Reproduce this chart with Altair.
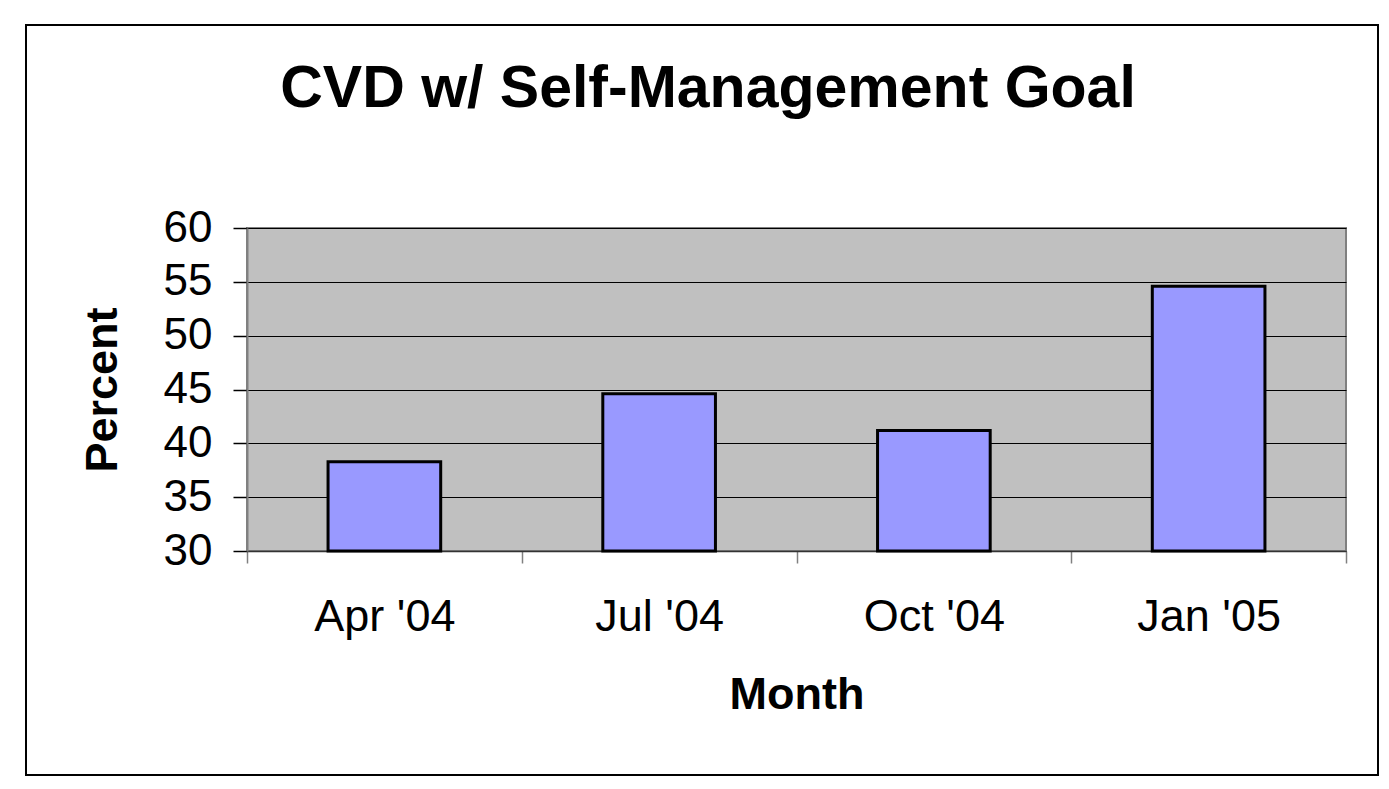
import altair as alt
import pandas as pd

months = ["Apr '04", "Jul '04", "Oct '04", "Jan '05"]
percents = [38.3, 44.6, 41.2, 54.6]
y_ticks = [30, 35, 40, 45, 50, 55, 60]
title_text = "CVD w/ Self-Management Goal"

FONT = "Liberation Sans, Arial, Helvetica, sans-serif"

df = pd.DataFrame({"Month": months, "Percent": percents})

W, H = 1099, 323

bars = alt.Chart(df).mark_bar(
    fill="#9999FF", stroke="#000000", strokeWidth=3,
    width=alt.RelativeBandSize(0.41)
).encode(
    x=alt.X(
        "Month:N",
        sort=months,
        scale=alt.Scale(paddingInner=0, paddingOuter=0),
        axis=alt.Axis(
            title="Month",
            labelAngle=0,
            labelFont=FONT,
            labelFontSize=45,
            labelColor="#000000",
            labelPadding=31,
            tickBand="extent",
            tickSize=12,
            tickColor="#808080",
            tickWidth=1.5,
            domainColor="#333333",
            domainWidth=1.5,
            titleFont=FONT,
            titleFontSize=45,
            titleFontWeight="bold",
            titleColor="#000000",
            titlePadding=33,
            grid=False,
        ),
    ),
    y=alt.Y(
        "Percent:Q",
        scale=alt.Scale(domain=[30, 60], nice=False, zero=False),
        axis=alt.Axis(
            title="Percent",
            values=y_ticks,
            labelFont=FONT,
            labelFontSize=44,
            labelColor="#000000",
            labelPadding=21,
            tickSize=14,
            tickColor="#000000",
            tickWidth=1.5,
            domainColor="#808080",
            domainWidth=2,
            grid=True,
            gridColor="#000000",
            gridWidth=1.2,
            gridOpacity=1,
            titleFont=FONT,
            titleFontSize=45,
            titleFontWeight="bold",
            titleColor="#000000",
            titlePadding=38,
        ),
    ),
    y2=alt.datum(30),
)

one = pd.DataFrame({"t": [title_text]})

frame = alt.Chart(one).mark_rect(
    fill=None, fillOpacity=0, stroke="#000000", strokeWidth=2, clip=False
).encode(
    x=alt.value(-221), x2=alt.value(1131), y=alt.value(-203), y2=alt.value(547)
)

title = alt.Chart(one).mark_text(
    font=FONT, fontSize=59, fontWeight="bold", color="#000000",
    align="center", baseline="alphabetic", clip=False
).encode(
    text="t:N", x=alt.value(461), y=alt.value(-121)
)

chart = alt.layer(frame, bars, title).properties(
    width=W, height=H,
    autosize=alt.AutoSizeParams(type="none"),
    padding={"left": 239, "top": 220, "right": 35, "bottom": 225},
    background="#FFFFFF",
).configure_view(
    fill="#C0C0C0", stroke="#808080", strokeWidth=2
)

chart.save("out.html", embed_options={"renderer": "svg", "actions": False})
